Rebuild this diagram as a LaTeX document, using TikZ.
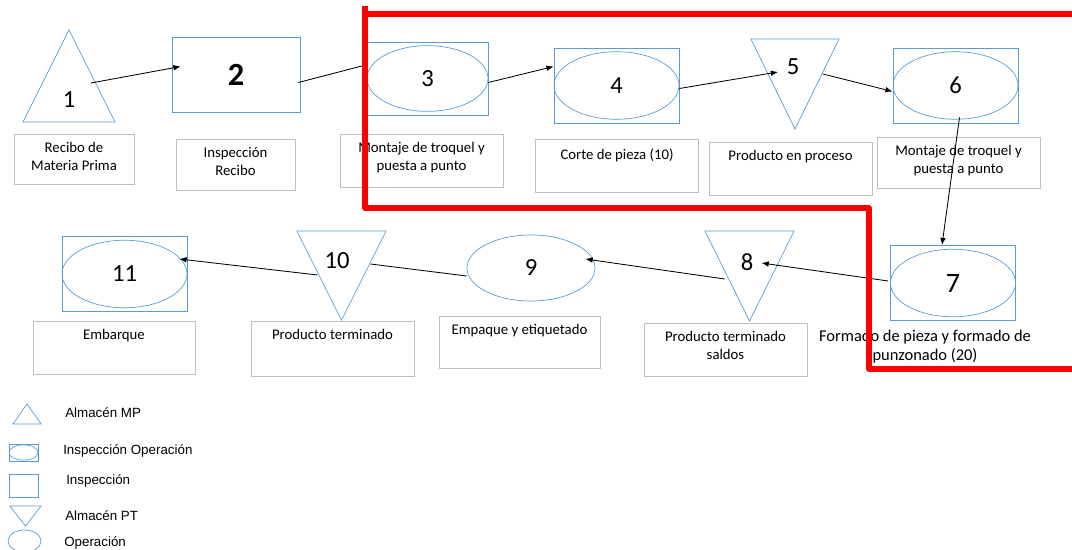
\documentclass[tikz,border=0pt]{standalone}
\usepackage{fontspec}
\setmainfont{Carlito}
\newfontfamily\legendfont{Liberation Sans}
\usetikzlibrary{arrows.meta,shapes.geometric,calc}
\definecolor{shapeblue}{RGB}{91,155,213}
\definecolor{boxgray}{RGB}{191,191,191}

\begin{document}
\begin{tikzpicture}[
  x=0.025cm, y=-0.025cm,
  every node/.style={font=\fontsize{10.5}{12.5}\selectfont},
  num/.style={font=\fontsize{17.5}{20}\selectfont, inner sep=0pt},
  inspbox/.style={draw=shapeblue, line width=0.5pt, minimum width=3.2cm, minimum height=1.875cm, font=\fontsize{17.5}{20}\selectfont},
  opbox/.style={inspbox, minimum width=3.125cm,
    path picture={\draw[shapeblue, line width=0.5pt]
      let \p1=(path picture bounding box.north east), \p2=(path picture bounding box.south west)
      in (path picture bounding box.center) ellipse [x radius={(\x1-\x2)/2}, y radius={(\y1-\y2)*0.45}];}},
  opellipse/.style={draw=shapeblue, line width=0.5pt, ellipse, inner sep=0pt, font=\fontsize{17.5}{20}\selectfont},
  uptri/.style={draw=shapeblue, line width=0.5pt, isosceles triangle, isosceles triangle stretches, shape border rotate=90, inner sep=0pt, anchor=apex},
  downtri/.style={uptri, shape border rotate=270},
  lblbox/.style={draw=boxgray, line width=0.5pt, minimum width=4.075cm, minimum height=1.325cm},
  lbltext/.style={anchor=north, yshift=-0.15cm, align=center, inner sep=2pt},
  legendtext/.style={font=\legendfont\fontsize{9.5}{11}\selectfont, anchor=west, inner sep=0pt},
  flow/.style={-{Latex[length=1.8mm,width=1.4mm]}, line width=0.6pt},
  link/.style={line width=0.6pt},
  redline/.style={draw=red, line width=3.9pt, line join=round}
]
\useasboundingbox (0,0) rectangle (1072,550);

% first row
\node[uptri, minimum width=2.3cm, minimum height=2.3cm] (mp) at (69,29) {};
\node[num] (num1) at (69,100) {1};
\node[inspbox, font=\bfseries\fontsize{23}{26}\selectfont] (insp) at (236,74.5) {2};
\node[opbox, minimum width=3.025cm, minimum height=1.825cm] (mont1) at (427.5,78.5) {3};
\node[opbox] (corte) at (616.5,85.5) {4};
\node[downtri, minimum width=2.2cm, minimum height=2.25cm] (proc) at (795,130) {};
\node[num] (num5) at (793,67) {5};
\node[opbox] (mont2) at (955.5,85.5) {6};

\node[lblbox, minimum width=3cm, minimum height=1.25cm, label={[lbltext]north:Recibo de\\Materia Prima}] (lmp) at (74,159) {};
\node[lblbox, minimum width=2.975cm, minimum height=1.275cm, label={[lbltext]north:Inspección\\Recibo}] (linsp) at (235.5,164.5) {};
\node[lblbox, label={[lbltext]north:Montaje de troquel y\\puesta a punto}] (lmont1) at (421.5,160.5) {};
\node[lblbox, label={[lbltext]north:Corte de pieza (10)}] (lcorte) at (617,166) {};
\node[lblbox, label={[lbltext]north:Producto en proceso}] (lproc) at (790.5,168.5) {};
\node[lblbox, minimum height=1.275cm, label={[lbltext]north:Montaje de troquel y\\puesta a punto}] (lmont2) at (958.5,162.5) {};

% second row
\node[opbox, font=\fontsize{20}{22}\selectfont] (form) at (953,283) {7};
\node[downtri, minimum width=2.225cm, minimum height=2.25cm] (saldos) at (749.5,322) {};
\node[num] (num8) at (747,262) {8};
\node[opellipse, minimum width=3.2cm, minimum height=1.65cm] (emp) at (531,268) {9};
\node[downtri, minimum width=2.225cm, minimum height=2.225cm] (term) at (341.5,321) {};
\node[num] (num10) at (337,261) {10};
\node[opbox] (emb) at (124.5,274) {11};

\node[align=center, font=\fontsize{11.7}{13.5}\selectfont] (lform) at (925,347) {Formado de pieza y formado de\\punzonado (20)};
\node[lblbox, label={[lbltext]north:Producto terminado\\saldos}] (lsaldos) at (725.5,349.5) {};
\node[lblbox, minimum width=4.025cm, minimum height=1.3cm, label={[lbltext]north:Empaque y etiquetado}] (lemp) at (519.5,342) {};
\node[lblbox, minimum height=1.375cm, label={[lbltext]north:Producto terminado}] (lterm) at (332.5,348.5) {};
\node[lblbox, minimum width=4.05cm, label={[lbltext]north:Embarque}] (lemb) at (114,347.5) {};

% flow
\draw[flow] ([shift={(22,54)}]mp.apex) -- ([shift={(9,-8)}]insp.west);
\draw[link] ([shift={(-2,8)}]insp.east) -- ([shift={(1,-14)}]mont1.west);
\draw[flow] ([shift={(0,4)}]mont1.east) -- ([shift={(0,-19)}]corte.west);
\draw[flow] ([shift={(0,3)}]corte.east) -- ([shift={(-17,-58)}]proc.apex);
\draw[flow] ([shift={(28,-56)}]proc.apex) -- ([shift={(0,6)}]mont2.west);
\draw[flow] ([shift={(4,-6)}]mont2.south) -- ([shift={(-11,0)}]form.north);
\draw[flow] ([shift={(-2,-2)}]form.west) -- ([shift={(12,-59)}]saldos.apex);
\draw[flow] ([shift={(-25,-43)}]saldos.apex) -- ([shift={(-10,-9)}]emp.east);
\draw[link] ([shift={(0,8)}]emp.west) -- ([shift={(29,-57)}]term.apex);
\draw[flow] ([shift={(-24,-46)}]term.apex) -- ([shift={(-8,-15)}]emb.east);

% legend
\node[uptri, minimum width=0.7cm, minimum height=0.5cm] (lgmp) at (27,403) {};
\node[legendtext] (lgmptext) at (65,413) {Almacén MP};
\node[opbox, minimum width=0.725cm, minimum height=0.425cm] (lgio) at (23.5,452.5) {};
\node[legendtext] (lgiotext) at (63,451) {Inspección Operación};
\node[inspbox, minimum width=0.725cm, minimum height=0.575cm] (lgin) at (23.5,485.5) {};
\node[legendtext] (lgintext) at (66,481) {Inspección};
\node[downtri, minimum width=0.775cm, minimum height=0.5cm] (lgpt) at (25.5,527) {};
\node[legendtext] (lgpttext) at (65,516) {Almacén PT};
\node[opellipse, minimum width=0.825cm, minimum height=0.55cm] (lgop) at (24.5,541) {};
\node[legendtext] (lgoptext) at (64,543) {Operación};

% highlighted area
\draw[redline] (365,6) -- (365,208) -- (869,208) -- (869,369) -- (1072,369);
\draw[redline] (365,14) -- (1072,14);
\end{tikzpicture}
\end{document}
